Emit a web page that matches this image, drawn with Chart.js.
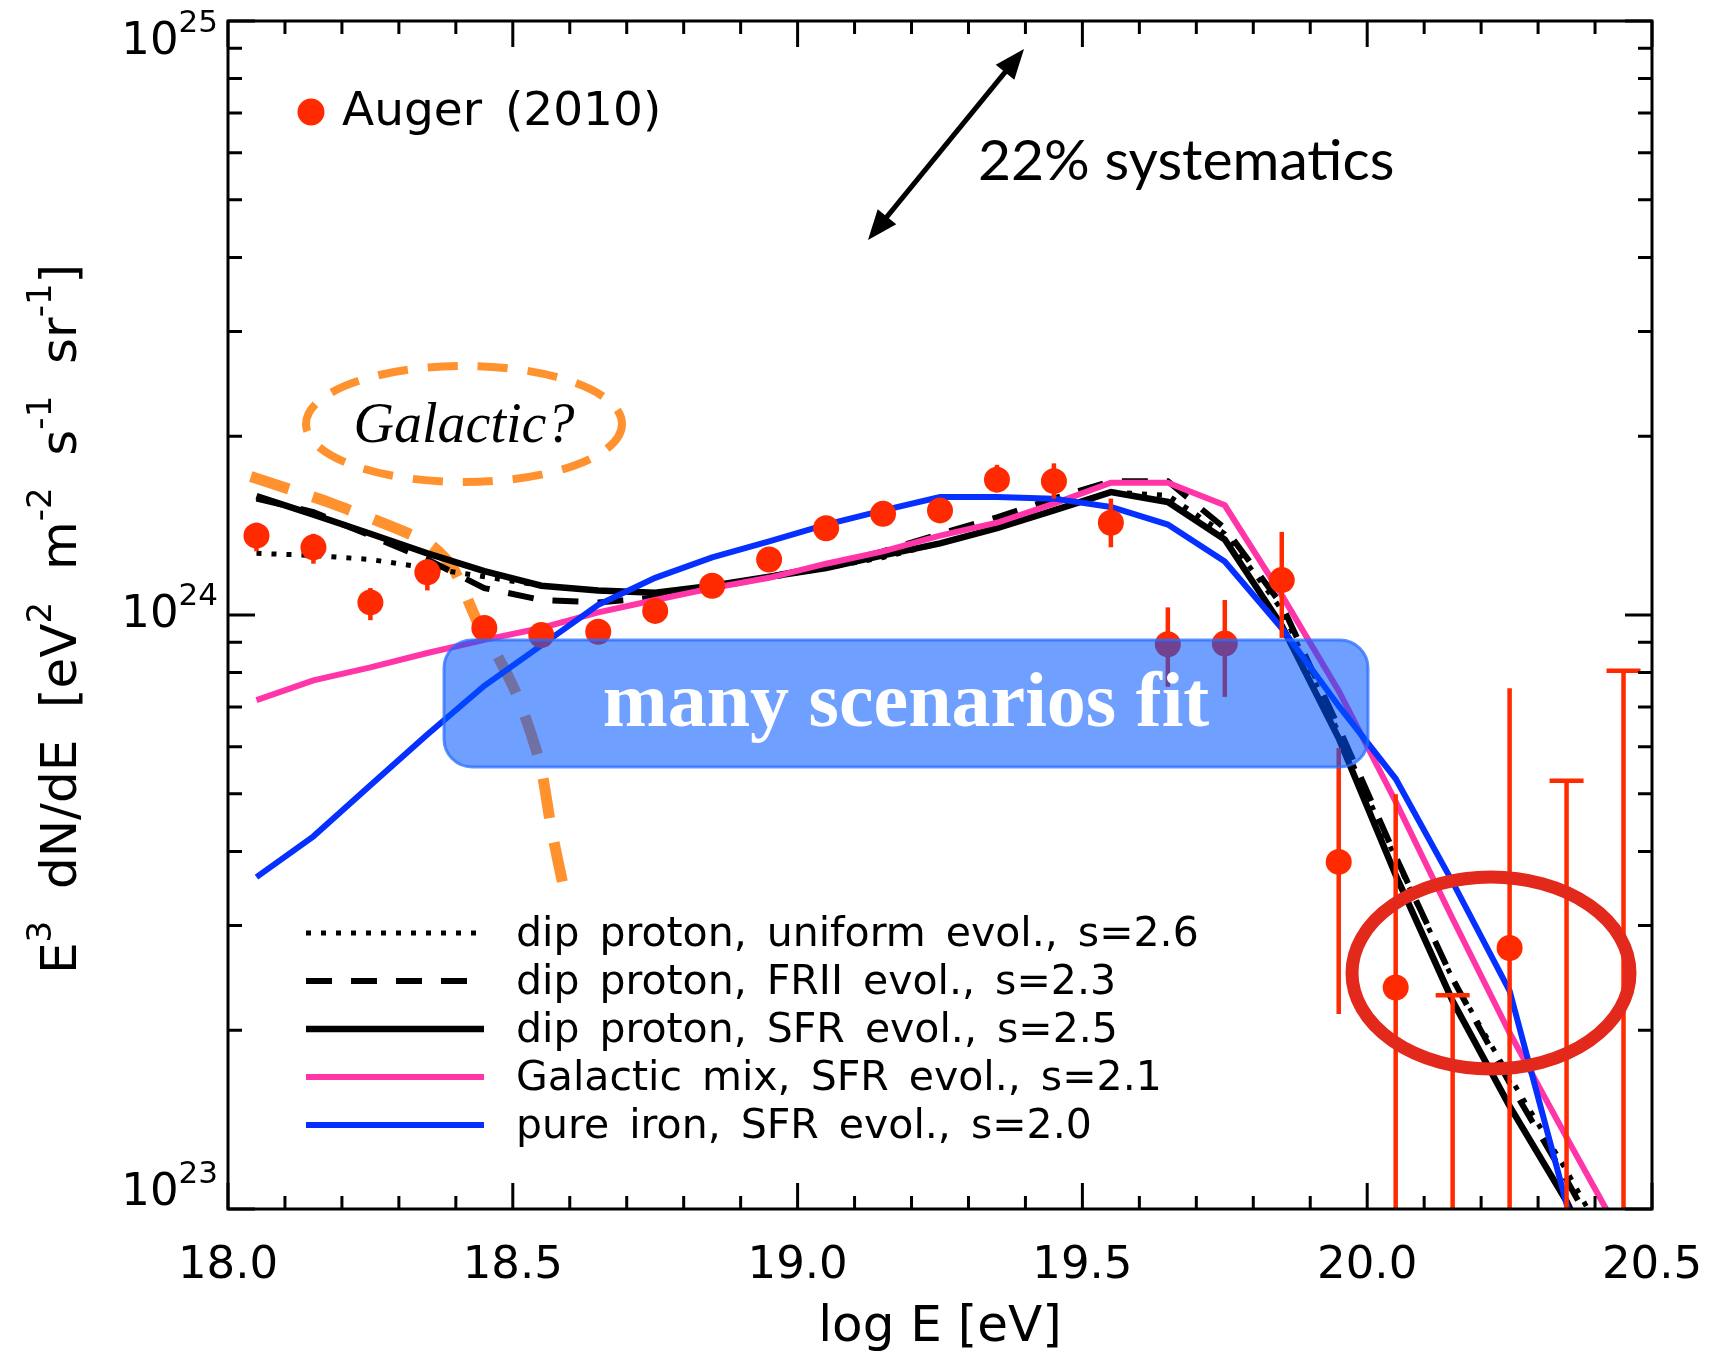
<!DOCTYPE html>
<html><head><meta charset="utf-8">
<script src="https://cdn.jsdelivr.net/npm/chart.js@4.4.1/dist/chart.umd.min.js"></script>
<style>html,body{margin:0;padding:0;background:#fff;}canvas{display:block;}</style>
</head><body>
<canvas id="c" width="1712" height="1358"></canvas>
<script>
// ---------------- data ----------------
const augerLabel = 'Auger (2010)';
const augerX  = [18.05,18.15,18.25,18.35,18.45,18.55,18.65,18.75,18.85,18.95,19.05,19.15,19.25,19.35,19.45,19.55,19.65,19.75,19.85,19.95,20.05,20.25];
const augerY  = [1.36e24,1.30e24,1.05e24,1.18e24,9.51e23,9.25e23,9.37e23,1.016e24,1.12e24,1.24e24,1.40e24,1.48e24,1.50e24,1.69e24,1.68e24,1.43e24,8.93e23,8.95e23,1.145e24,3.84e23,2.36e23,2.75e23];
const augerHi = [1.43e24,1.37e24,1.11e24,1.24e24,9.8e23,9.5e23,9.6e23,1.04e24,1.14e24,1.26e24,1.42e24,1.50e24,1.53e24,1.79e24,1.80e24,1.57e24,1.03e24,1.06e24,1.38e24,5.97e23,4.99e23,7.53e23];
const augerLo = [1.28e24,1.22e24,9.8e23,1.10e24,9.2e23,9.0e23,9.15e23,9.9e23,1.10e24,1.22e24,1.38e24,1.46e24,1.47e24,1.61e24,1.57e24,1.30e24,7.57e23,7.28e23,9.15e23,2.13e23,1e22,1e22];
const upperLimitX = [20.15,20.35,20.45];
const upperLimitY = [2.29e23,5.26e23,8.06e23];

const modelX = [18.05,18.15,18.25,18.35,18.45,18.55,18.65,18.75,18.85,18.95,19.05,19.15,19.25,19.35,19.45,19.55,19.65,19.75,19.85,19.95,20.05,20.15,20.25,20.35,20.45];
const dipUniformY = [1.27e24,1.26e24,1.24e24,1.20e24,1.16e24,1.12e24,1.10e24,1.09e24,1.12e24,1.155e24,1.20e24,1.25e24,1.32e24,1.40e24,1.50e24,1.61e24,1.59e24,1.37e24,1.02e24,6.33e23,3.89e23,2.44e23,1.67e23,1.16e23,7.8e22];
const dipFRIIY    = [1.57e24,1.49e24,1.36e24,1.24e24,1.11e24,1.06e24,1.05e24,1.07e24,1.11e24,1.16e24,1.21e24,1.28e24,1.37e24,1.46e24,1.57e24,1.68e24,1.68e24,1.40e24,1.04e24,6.47e23,3.92e23,2.44e23,1.63e23,1.12e23,7.5e22];
const dipSFRY     = [1.585e24,1.476e24,1.37e24,1.27e24,1.185e24,1.12e24,1.10e24,1.09e24,1.12e24,1.16e24,1.20e24,1.26e24,1.32e24,1.40e24,1.50e24,1.61e24,1.55e24,1.34e24,9.6e23,6.2e23,3.65e23,2.24e23,1.49e23,1.03e23,6.5e22];
const galMixY     = [7.19e23,7.76e23,8.16e23,8.63e23,9.08e23,9.51e23,1.01e24,1.06e24,1.11e24,1.155e24,1.22e24,1.28e24,1.36e24,1.43e24,1.54e24,1.67e24,1.67e24,1.53e24,1.08e24,7.45e23,4.85e23,3.08e23,1.98e23,1.32e23,8.85e22];
const ironY       = [3.62e23,4.24e23,5.17e23,6.29e23,7.60e23,8.89e23,1.04e24,1.155e24,1.25e24,1.33e24,1.42e24,1.50e24,1.58e24,1.58e24,1.57e24,1.52e24,1.42e24,1.23e24,9.5e23,7.03e23,5.30e23,3.55e23,2.33e23,1.02e23,5.0e22];

const galacticX = [18.04,18.175,18.31,18.357,18.395,18.443,18.472,18.51,18.548,18.568,18.593];
const galacticY = [1.71e24,1.55e24,1.38e24,1.31e24,1.20e24,9.5e23,8.57e23,7.23e23,5.61e23,4.35e23,3.34e23];

const modelLabels = ['dip proton, uniform evol., s=2.6','dip proton, FRII evol., s=2.3','dip proton, SFR evol., s=2.5','Galactic mix, SFR evol., s=2.1','pure iron, SFR evol., s=2.0'];
const xMajorTicks = [18.0,18.5,19.0,19.5,20.0,20.5];
const yDecades = [23,24,25];
const xTitle = 'log E [eV]';
const annotationTexts = {sys:'22% systematics', gal:'Galactic?', box:'many scenarios fit'};

// ---------------- styles ----------------
const RED = '#ff2a00';
const FONT = 'DejaVu Sans';
const lineStyles = [
  {color:'#000', width:5, dash:[5,10]},
  {color:'#000', width:6, dash:[26,19]},
  {color:'#000', width:6.5, dash:[]},
  {color:'#ff35a8', width:6, dash:[]},
  {color:'#0530ff', width:6, dash:[]}
];
const modelSeries = [dipUniformY, dipFRIIY, dipSFRY, galMixY, ironY];
const pts = (xs, ys) => xs.map((v,i)=>({x:v, y:ys[i]}));

const datasets = [{
  label: augerLabel, data: pts(augerX, augerY), showLine:false,
  pointRadius:13, pointHoverRadius:13, pointBackgroundColor:RED, pointBorderWidth:0, borderColor:RED
}];
[4,3,2,1,0].forEach(k => datasets.push({
  label: modelLabels[k], data: pts(modelX, modelSeries[k]),
  borderColor: lineStyles[k].color, borderWidth: lineStyles[k].width, borderDash: lineStyles[k].dash,
  borderCapStyle:'butt', pointRadius:0, tension:0, fill:false
}));
datasets.push({
  label:'Galactic', data: pts(galacticX, galacticY), borderColor:'#ff922e', borderWidth:11,
  borderDash:[40,25], borderCapStyle:'butt', pointRadius:0, tension:0.25, fill:false
});

function richText(ctx, segs, x, y, main, sup, raise) {
  let cx = x;
  segs.forEach(s => {
    ctx.font = (s.sup ? sup : main) + 'px ' + FONT;
    ctx.fillText(s.t, cx, s.sup ? y - raise : y);
    cx += ctx.measureText(s.t).width;
  });
  return cx - x;
}
function richWidth(ctx, segs, main, sup) {
  let w = 0;
  segs.forEach(s => { ctx.font = (s.sup ? sup : main) + 'px ' + FONT; w += ctx.measureText(s.t).width; });
  return w;
}

const decor = {
  id:'decor',
  afterDatasetsDraw(chart) {
    const {ctx, chartArea:ca, scales:{x, y}} = chart;
    // error bars & upper limits
    ctx.save();
    ctx.beginPath(); ctx.rect(ca.left, ca.top, ca.right-ca.left, ca.bottom-ca.top); ctx.clip();
    ctx.strokeStyle = RED; ctx.lineWidth = 4.5;
    augerX.forEach((xv,i) => {
      const px = x.getPixelForValue(xv);
      ctx.beginPath();
      ctx.moveTo(px, y.getPixelForValue(augerHi[i]));
      ctx.lineTo(px, Math.min(y.getPixelForValue(augerLo[i]), ca.bottom+5));
      ctx.stroke();
    });
    upperLimitX.forEach((xv,i) => {
      const px = x.getPixelForValue(xv), py = y.getPixelForValue(upperLimitY[i]);
      ctx.beginPath();
      ctx.moveTo(px-17, py); ctx.lineTo(px+17, py);
      ctx.moveTo(px, py); ctx.lineTo(px, ca.bottom);
      ctx.stroke();
    });
    ctx.restore();

    const L = ca.left, T = ca.top;
    // blue box
    ctx.save();
    ctx.beginPath();
    ctx.roundRect(L+216, T+619, 924, 127, 28);
    ctx.fillStyle = 'rgba(0,85,255,0.56)';
    ctx.fill();
    ctx.strokeStyle = 'rgba(40,110,255,0.75)'; ctx.lineWidth = 3; ctx.stroke();
    ctx.fillStyle = '#fff'; ctx.font = 'bold 78px "Liberation Serif"';
    ctx.textAlign = 'center'; ctx.textBaseline = 'alphabetic';
    ctx.fillText(annotationTexts.box, L+678, T+705);
    ctx.restore();

    // red ellipse
    ctx.save();
    ctx.strokeStyle = '#e3281c'; ctx.lineWidth = 13;
    ctx.beginPath(); ctx.ellipse(L+1263, T+952, 139, 96, 0, 0, Math.PI*2); ctx.stroke();
    ctx.restore();

    // Galactic? ellipse
    ctx.save();
    ctx.strokeStyle = '#ff922e'; ctx.lineWidth = 8; ctx.setLineDash([30,20]);
    ctx.beginPath(); ctx.ellipse(L+236, T+403, 158, 58, 0, 0, Math.PI*2); ctx.stroke();
    ctx.setLineDash([]);
    ctx.fillStyle = '#000'; ctx.font = 'italic 56px "Liberation Serif"';
    ctx.textAlign = 'center'; ctx.textBaseline = 'alphabetic';
    ctx.fillText(annotationTexts.gal, L+236, T+421);
    ctx.restore();

    // double arrow
    ctx.save();
    const ax1 = L+640, ay1 = T+219, ax2 = L+796, ay2 = T+28;
    const ang = Math.atan2(ay2-ay1, ax2-ax1), hl = 30, hw = 12;
    const sx1 = ax1 + Math.cos(ang)*hl*0.8, sy1 = ay1 + Math.sin(ang)*hl*0.8;
    const sx2 = ax2 - Math.cos(ang)*hl*0.8, sy2 = ay2 - Math.sin(ang)*hl*0.8;
    ctx.strokeStyle = '#000'; ctx.lineWidth = 5;
    ctx.beginPath(); ctx.moveTo(sx1, sy1); ctx.lineTo(sx2, sy2); ctx.stroke();
    ctx.fillStyle = '#000';
    [[ax2, ay2, ang],[ax1, ay1, ang+Math.PI]].forEach(([hx,hy,a]) => {
      ctx.beginPath();
      ctx.moveTo(hx, hy);
      ctx.lineTo(hx - Math.cos(a)*hl - Math.sin(a)*hw, hy - Math.sin(a)*hl + Math.cos(a)*hw);
      ctx.lineTo(hx - Math.cos(a)*hl + Math.sin(a)*hw, hy - Math.sin(a)*hl - Math.cos(a)*hw);
      ctx.closePath(); ctx.fill();
    });
    ctx.font = '57px Lato'; ctx.textAlign = 'left'; ctx.textBaseline = 'alphabetic';
    ctx.fillText(annotationTexts.sys, L+750, T+159);
    ctx.restore();

    // Auger legend
    ctx.save();
    ctx.fillStyle = RED;
    ctx.beginPath(); ctx.arc(L+83, T+91, 13.5, 0, Math.PI*2); ctx.fill();
    ctx.fillStyle = '#000'; ctx.font = '47px ' + FONT; ctx.textBaseline = 'alphabetic';
    try { ctx.wordSpacing = '8px'; } catch(e) {}
    ctx.fillText(augerLabel, L+114, T+104);
    ctx.restore();

    // model legend
    ctx.save();
    modelLabels.forEach((lab, k) => {
      const ry = T + 912 + k*48;
      const st = lineStyles[k];
      ctx.strokeStyle = st.color; ctx.lineWidth = st.width; ctx.setLineDash(st.dash); ctx.lineCap = 'butt';
      ctx.beginPath(); ctx.moveTo(L+78, ry); ctx.lineTo(L+256, ry); ctx.stroke();
      ctx.setLineDash([]);
      ctx.fillStyle = '#000'; ctx.font = '41px ' + FONT; ctx.textBaseline = 'middle';
      try { ctx.wordSpacing = '7px'; } catch(e) {}
      ctx.fillText(lab, L+288, ry+2);
    });
    ctx.restore();
  },
  afterDraw(chart) {
    const {ctx, chartArea:ca, scales:{x, y}} = chart;
    ctx.save();
    ctx.strokeStyle = '#000'; ctx.lineWidth = 3; ctx.lineCap = 'square';
    ctx.strokeRect(ca.left, ca.top, ca.right-ca.left, ca.bottom-ca.top);
    ctx.lineCap = 'butt';
    // x ticks (inward, top & bottom)
    const xmin = x.min, xmax = x.max;
    for (let i = 0; i <= Math.round((xmax-xmin)*10); i++) {
      const v = xmin + i/10, px = x.getPixelForValue(v);
      const len = (i % 5 === 0) ? 26 : 13;
      ctx.beginPath();
      ctx.moveTo(px, ca.bottom); ctx.lineTo(px, ca.bottom-len);
      ctx.moveTo(px, ca.top); ctx.lineTo(px, ca.top+len);
      ctx.stroke();
    }
    // y ticks
    for (let d = yDecades[0]; d <= yDecades[yDecades.length-1]; d++) {
      for (let m = 1; m <= 9; m++) {
        const v = m*Math.pow(10,d);
        if (v > y.max*1.0001) break;
        const py = y.getPixelForValue(v);
        const len = m === 1 ? 27 : 14;
        ctx.beginPath();
        ctx.moveTo(ca.left, py); ctx.lineTo(ca.left+len, py);
        ctx.moveTo(ca.right, py); ctx.lineTo(ca.right-len, py);
        ctx.stroke();
      }
    }
    // y tick labels
    ctx.fillStyle = '#000'; ctx.textBaseline = 'middle'; ctx.textAlign = 'left';
    yDecades.forEach(d => {
      let py = y.getPixelForValue(Math.pow(10,d));
      py = Math.min(Math.max(py, ca.top+21), ca.bottom-16);
      const sup = String(d);
      ctx.font = '31px ' + FONT; const ws = ctx.measureText(sup).width;
      const right = ca.left - 10;
      ctx.fillText(sup, right-ws, py-18);
      ctx.font = '45px ' + FONT; const wb = ctx.measureText('10').width;
      ctx.fillText('10', right-ws-wb, py);
    });
    // y title
    const segs = [{t:'E'},{t:'3',sup:1},{t:'  dN/dE  [eV'},{t:'2',sup:1},{t:'  m'},{t:'-2',sup:1},{t:'  s'},{t:'-1',sup:1},{t:'  sr'},{t:'-1',sup:1},{t:']'}];
    ctx.save();
    ctx.translate(49, (ca.top+ca.bottom)/2 + 4);
    ctx.rotate(-Math.PI/2);
    const w = richWidth(ctx, segs, 50, 34);
    ctx.textBaseline = 'middle';
    richText(ctx, segs, -w/2, 14, 50, 34, 21);
    ctx.restore();
    ctx.restore();
  }
};

Chart.defaults.font.family = FONT;
new Chart(document.getElementById('c'), {
  type:'line',
  data:{datasets},
  options:{
    responsive:false, animation:false, devicePixelRatio:1, events:[],
    layout:{padding:{top:21, right:60, left:0, bottom:0}},
    plugins:{legend:{display:false}, tooltip:{enabled:false}},
    scales:{
      x:{type:'linear', min:18, max:20.5,
        afterBuildTicks:s => { s.ticks = xMajorTicks.map(v=>({value:v})); },
        ticks:{callback:v=>Number(v).toFixed(1), font:{size:45}, color:'#000', padding:30, autoSkip:false, maxRotation:0},
        grid:{display:false, drawTicks:false}, border:{display:false},
        title:{display:true, text:xTitle, font:{size:50}, color:'#000', padding:{top:0,bottom:0}},
        afterFit:s => { s.height = 149; s.paddingLeft = 0; s.paddingRight = 0; }
      },
      y:{type:'logarithmic', min:1e23, max:1e25,
        ticks:{display:false}, grid:{display:false, drawTicks:false}, border:{display:false},
        afterFit:s => { s.width = 228; s.paddingTop = 0; s.paddingBottom = 0; }
      }
    }
  },
  plugins:[decor]
});
</script>
</body></html>
